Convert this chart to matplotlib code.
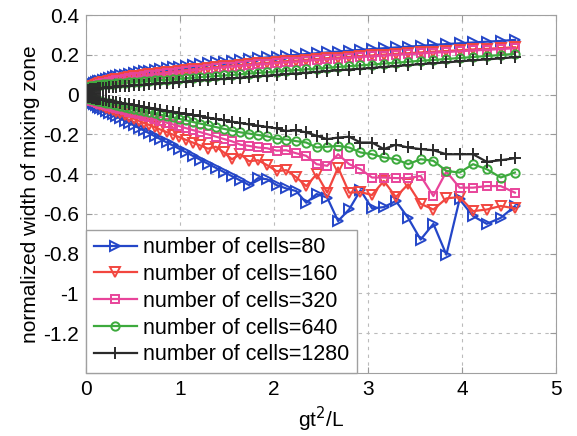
import numpy as np
import matplotlib
matplotlib.use("Agg")
import matplotlib.pyplot as plt

plt.rcParams['font.family'] = ['Liberation Sans', 'DejaVu Sans']
plt.rcParams['axes.unicode_minus'] = False

# time samples, x axis is g t^2 / L
t = np.linspace(0, 2.136, 61)
gt2 = t ** 2

cells = [80, 160, 320, 640, 1280]

# upper edge of the mixing zone
up_80 = [0, .011, .021, .028, .035, .041, .047, .052, .057, .061, .066, .070, .074, .079, .083, .087,
         .092, .096, .100, .104, .108, .112, .117, .121, .125, .129, .133, .137, .141, .146, .150,
         .154, .158, .162, .166, .171, .175, .179, .183, .187, .191, .196, .200, .204, .208, .212,
         .216, .221, .225, .229, .233, .237, .241, .245, .250, .254, .258, .262, .266, .270, .275]
up_160 = [0, .008, .015, .022, .027, .032, .037, .041, .045, .050, .053, .057, .061, .065, .068, .072,
          .076, .080, .083, .087, .091, .094, .098, .102, .105, .109, .113, .116, .120, .124, .127,
          .131, .135, .138, .142, .146, .149, .153, .157, .160, .164, .168, .171, .175, .179, .183,
          .186, .190, .194, .197, .201, .205, .208, .212, .216, .219, .223, .227, .230, .234, .238]
up_320 = [0, .007, .013, .019, .024, .028, .033, .037, .041, .045, .048, .052, .056, .060, .063, .067,
          .071, .075, .078, .082, .086, .089, .093, .097, .100, .104, .108, .111, .115, .119, .122,
          .126, .130, .133, .137, .141, .144, .148, .152, .155, .159, .163, .166, .170, .174, .178,
          .181, .185, .189, .192, .196, .200, .203, .207, .211, .214, .218, .222, .225, .229, .233]
up_640 = [0, .013, .022, .029, .034, .038, .041, .042, .045, .046, .047, .050, .051, .052, .053, .055,
          .056, .058, .059, .061, .063, .065, .066, .068, .071, .073, .075, .077, .080, .082, .085,
          .088, .090, .093, .096, .099, .102, .106, .109, .112, .116, .120, .123, .127, .131, .135,
          .139, .143, .147, .151, .156, .160, .165, .170, .174, .179, .184, .189, .194, .199, .205]
up_1280 = [0, .008, .014, .018, .021, .024, .026, .027, .029, .030, .031, .033, .034, .035, .036, .038,
           .039, .041, .042, .044, .046, .048, .049, .051, .054, .056, .058, .060, .063, .065, .068,
           .071, .073, .076, .079, .082, .085, .089, .092, .095, .099, .103, .106, .110, .114, .118,
           .122, .126, .130, .134, .139, .143, .148, .153, .157, .162, .167, .172, .177, .182, .188]

# lower edge of the mixing zone
lo_80 = [0, -.009, -.016, -.022, -.027, -.032, -.037, -.042, -.048, -.054, -.060, -.067, -.074, -.082,
         -.091, -.100, -.109, -.120, -.131, -.142, -.154, -.167, -.180, -.194, -.209, -.224, -.240,
         -.256, -.273, -.291, -.309, -.328, -.348, -.368, -.389, -.410, -.432, -.455, -.420, -.426,
         -.455, -.472, -.485, -.544, -.500, -.518, -.636, -.577, -.481, -.572, -.566, -.535, -.620,
         -.729, -.650, -.805, -.527, -.611, -.650, -.620, -.561]
lo_160 = [0, -.007, -.013, -.018, -.022, -.026, -.030, -.034, -.039, -.043, -.048, -.054, -.059, -.065,
          -.072, -.079, -.087, -.095, -.103, -.112, -.121, -.131, -.142, -.152, -.164, -.176, -.188,
          -.201, -.214, -.228, -.242, -.256, -.272, -.262, -.290, -.325, -.300, -.335, -.330, -.355,
          -.385, -.380, -.415, -.460, -.400, -.493, -.367, -.493, -.490, -.505, -.434, -.515, -.451,
          -.549, -.578, -.522, -.515, -.586, -.578, -.560, -.572]
lo_320 = [0, -.007, -.013, -.017, -.021, -.025, -.028, -.031, -.034, -.038, -.041, -.045, -.049, -.054,
          -.058, -.063, -.069, -.074, -.080, -.087, -.093, -.100, -.108, -.115, -.124, -.132, -.141,
          -.150, -.159, -.169, -.179, -.189, -.200, -.211, -.223, -.235, -.252, -.258, -.266, -.270,
          -.282, -.280, -.295, -.308, -.350, -.358, -.300, -.350, -.375, -.417, -.417, -.420, -.420,
          -.409, -.510, -.387, -.468, -.468, -.460, -.460, -.493]
lo_640 = [0, -.005, -.009, -.013, -.015, -.018, -.020, -.023, -.025, -.028, -.031, -.034, -.037, -.040,
          -.044, -.048, -.052, -.056, -.061, -.066, -.071, -.077, -.082, -.088, -.095, -.101, -.108,
          -.115, -.122, -.130, -.138, -.146, -.154, -.163, -.172, -.181, -.190, -.196, -.203, -.210,
          -.222, -.226, -.234, -.241, -.266, -.262, -.258, -.266, -.291, -.300, -.316, -.325, -.350,
          -.325, -.333, -.384, -.392, -.350, -.375, -.417, -.392]
lo_1280 = [0, -.004, -.006, -.009, -.010, -.012, -.014, -.016, -.018, -.020, -.022, -.024, -.026, -.029,
           -.032, -.035, -.038, -.041, -.045, -.049, -.053, -.057, -.061, -.066, -.070, -.075, -.081,
           -.086, -.092, -.097, -.103, -.109, -.116, -.122, -.129, -.136, -.143, -.150, -.156, -.163,
           -.170, -.183, -.180, -.190, -.207, -.224, -.216, -.212, -.241, -.241, -.274, -.252, -.266,
           -.274, -.280, -.300, -.300, -.300, -.338, -.330, -.320]

upper = [up_80, up_160, up_320, up_640, up_1280]
lower = [lo_80, lo_160, lo_320, lo_640, lo_1280]
colors = ['#2446c8', '#f2463f', '#e8449a', '#3daa3d', '#2b2b2b']
markers = ['>', 'v', 's', 'o', '+']
msizes = [7, 7, 6, 6, 8]

fig = plt.figure(figsize=(5.77, 4.36), dpi=100)
ax = fig.add_axes([0.149, 0.1445, 0.8146, 0.821])

for i in range(5):
    style = dict(color=colors[i], marker=markers[i], markersize=msizes[i], linewidth=1.6,
                 markerfacecolor='none', markeredgewidth=1.4)
    ax.plot(gt2, upper[i], label='number of cells=%d' % cells[i], **style)
    ax.plot(gt2, lower[i], **style)

ax.set_xlim(0, 5)
ax.set_ylim(-1.4, 0.4)
ax.set_xticks([0, 1, 2, 3, 4, 5])
yt = [0.4, 0.2, 0, -0.2, -0.4, -0.6, -0.8, -1, -1.2]
ax.set_yticks(yt)
ax.set_yticklabels(['0.4', '0.2', '0', '-0.2', '-0.4', '-0.6', '-0.8', '-1', '-1.2'])
ax.tick_params(direction='in', labelsize=15, color='#999999', length=4, top=True, right=True, pad=5)
ax.grid(True, linestyle=(0, (3, 4)), color='#bbbbbb', linewidth=0.8)
for s in ax.spines.values():
    s.set_color('#a0a0a0')

ax.set_xlabel('gt$^2$/L', fontsize=15, labelpad=4)
ax.set_ylabel('normalized width of mixing zone', fontsize=15, labelpad=2)

leg = ax.legend(loc='lower left', borderaxespad=0, fontsize=15.5, fancybox=False,
                handlelength=2.0, labelspacing=0.27, borderpad=0.35, handletextpad=0.3)
leg.get_frame().set_edgecolor('#a0a0a0')
leg.get_frame().set_alpha(1)

fig.savefig('out.png', dpi=100)
